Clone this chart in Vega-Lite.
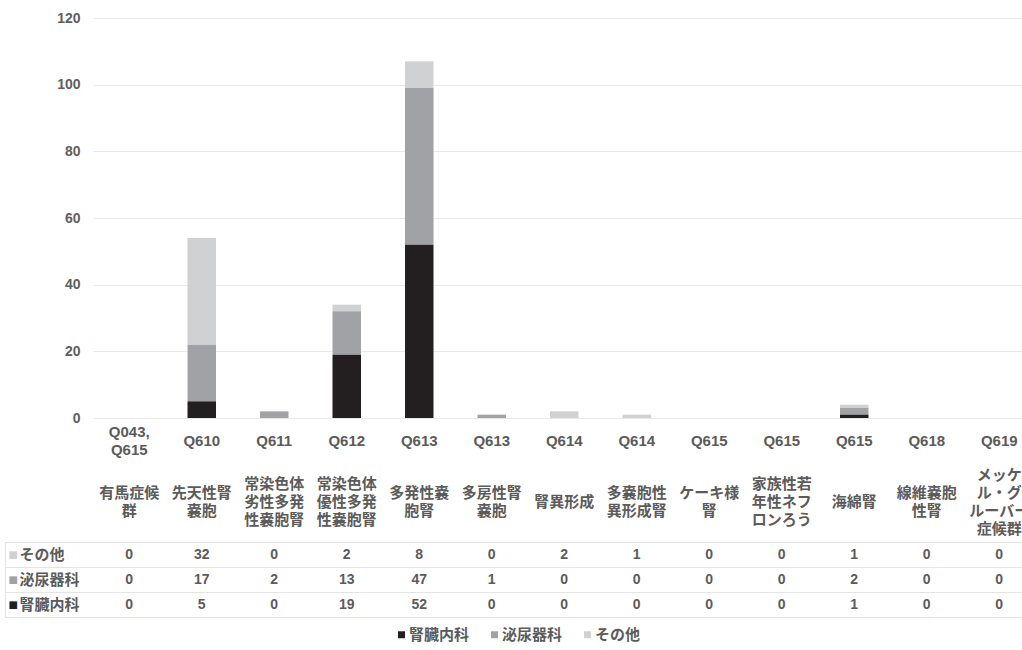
{
  "$schema": "https://vega.github.io/schema/vega-lite/v6.json",
  "autosize": {"type": "none"},
  "padding": {"left": 93, "top": 18, "right": 0, "bottom": 33},
  "width": 929,
  "height": 599,
  "background": "white",
  "config": {
    "view": {"stroke": null},
    "font": "Liberation Sans, Noto Sans CJK JP"
  },
  "datasets": {
    "counts": [
      {"disease": "有馬症候群", "series": "その他", "count": 0},
      {"disease": "有馬症候群", "series": "泌尿器科", "count": 0},
      {"disease": "有馬症候群", "series": "腎臓内科", "count": 0},
      {"disease": "先天性腎嚢胞", "series": "その他", "count": 32},
      {"disease": "先天性腎嚢胞", "series": "泌尿器科", "count": 17},
      {"disease": "先天性腎嚢胞", "series": "腎臓内科", "count": 5},
      {"disease": "常染色体劣性多発性嚢胞腎", "series": "その他", "count": 0},
      {"disease": "常染色体劣性多発性嚢胞腎", "series": "泌尿器科", "count": 2},
      {"disease": "常染色体劣性多発性嚢胞腎", "series": "腎臓内科", "count": 0},
      {"disease": "常染色体優性多発性嚢胞腎", "series": "その他", "count": 2},
      {"disease": "常染色体優性多発性嚢胞腎", "series": "泌尿器科", "count": 13},
      {"disease": "常染色体優性多発性嚢胞腎", "series": "腎臓内科", "count": 19},
      {"disease": "多発性嚢胞腎", "series": "その他", "count": 8},
      {"disease": "多発性嚢胞腎", "series": "泌尿器科", "count": 47},
      {"disease": "多発性嚢胞腎", "series": "腎臓内科", "count": 52},
      {"disease": "多房性腎嚢胞", "series": "その他", "count": 0},
      {"disease": "多房性腎嚢胞", "series": "泌尿器科", "count": 1},
      {"disease": "多房性腎嚢胞", "series": "腎臓内科", "count": 0},
      {"disease": "腎異形成", "series": "その他", "count": 2},
      {"disease": "腎異形成", "series": "泌尿器科", "count": 0},
      {"disease": "腎異形成", "series": "腎臓内科", "count": 0},
      {"disease": "多嚢胞性異形成腎", "series": "その他", "count": 1},
      {"disease": "多嚢胞性異形成腎", "series": "泌尿器科", "count": 0},
      {"disease": "多嚢胞性異形成腎", "series": "腎臓内科", "count": 0},
      {"disease": "ケーキ様腎", "series": "その他", "count": 0},
      {"disease": "ケーキ様腎", "series": "泌尿器科", "count": 0},
      {"disease": "ケーキ様腎", "series": "腎臓内科", "count": 0},
      {"disease": "家族性若年性ネフロンろう", "series": "その他", "count": 0},
      {"disease": "家族性若年性ネフロンろう", "series": "泌尿器科", "count": 0},
      {"disease": "家族性若年性ネフロンろう", "series": "腎臓内科", "count": 0},
      {"disease": "海綿腎", "series": "その他", "count": 1},
      {"disease": "海綿腎", "series": "泌尿器科", "count": 2},
      {"disease": "海綿腎", "series": "腎臓内科", "count": 1},
      {"disease": "線維嚢胞性腎", "series": "その他", "count": 0},
      {"disease": "線維嚢胞性腎", "series": "泌尿器科", "count": 0},
      {"disease": "線維嚢胞性腎", "series": "腎臓内科", "count": 0},
      {"disease": "メッケル・グルーバー症候群", "series": "その他", "count": 0},
      {"disease": "メッケル・グルーバー症候群", "series": "泌尿器科", "count": 0},
      {"disease": "メッケル・グルーバー症候群", "series": "腎臓内科", "count": 0}
    ],
    "header": [
      {"disease": "有馬症候群", "part": "code", "label": "Q043,\nQ615"},
      {"disease": "有馬症候群", "part": "name", "label": "有馬症候\n群"},
      {"disease": "先天性腎嚢胞", "part": "code", "label": "Q610"},
      {"disease": "先天性腎嚢胞", "part": "name", "label": "先天性腎\n嚢胞"},
      {"disease": "常染色体劣性多発性嚢胞腎", "part": "code", "label": "Q611"},
      {"disease": "常染色体劣性多発性嚢胞腎", "part": "name", "label": "常染色体\n劣性多発\n性嚢胞腎"},
      {"disease": "常染色体優性多発性嚢胞腎", "part": "code", "label": "Q612"},
      {"disease": "常染色体優性多発性嚢胞腎", "part": "name", "label": "常染色体\n優性多発\n性嚢胞腎"},
      {"disease": "多発性嚢胞腎", "part": "code", "label": "Q613"},
      {"disease": "多発性嚢胞腎", "part": "name", "label": "多発性嚢\n胞腎"},
      {"disease": "多房性腎嚢胞", "part": "code", "label": "Q613"},
      {"disease": "多房性腎嚢胞", "part": "name", "label": "多房性腎\n嚢胞"},
      {"disease": "腎異形成", "part": "code", "label": "Q614"},
      {"disease": "腎異形成", "part": "name", "label": "腎異形成"},
      {"disease": "多嚢胞性異形成腎", "part": "code", "label": "Q614"},
      {"disease": "多嚢胞性異形成腎", "part": "name", "label": "多嚢胞性\n異形成腎"},
      {"disease": "ケーキ様腎", "part": "code", "label": "Q615"},
      {"disease": "ケーキ様腎", "part": "name", "label": "ケーキ様\n腎"},
      {"disease": "家族性若年性ネフロンろう", "part": "code", "label": "Q615"},
      {"disease": "家族性若年性ネフロンろう", "part": "name", "label": "家族性若\n年性ネフ\nロンろう"},
      {"disease": "海綿腎", "part": "code", "label": "Q615"},
      {"disease": "海綿腎", "part": "name", "label": "海綿腎"},
      {"disease": "線維嚢胞性腎", "part": "code", "label": "Q618"},
      {"disease": "線維嚢胞性腎", "part": "name", "label": "線維嚢胞\n性腎"},
      {"disease": "メッケル・グルーバー症候群", "part": "code", "label": "Q619"},
      {"disease": "メッケル・グルーバー症候群", "part": "name", "label": "メッケ\nル・グ\nルーバー\n症候群"}
    ]
  },
  "resolve": {"scale": {"y": "independent"}, "axis": {"y": "independent"}},
  "layer": [
    {
      "data": {"name": "counts"},
      "mark": {"type": "bar", "width": {"band": 0.393}},
      "encoding": {
        "x": {
          "field": "disease", "type": "nominal",
          "scale": {"type": "band", "domain": ["有馬症候群","先天性腎嚢胞","常染色体劣性多発性嚢胞腎","常染色体優性多発性嚢胞腎","多発性嚢胞腎","多房性腎嚢胞","腎異形成","多嚢胞性異形成腎","ケーキ様腎","家族性若年性ネフロンろう","海綿腎","線維嚢胞性腎","メッケル・グルーバー症候群"], "range": [0, 942.5], "paddingInner": 0, "paddingOuter": 0},
          "axis": {"orient": "bottom", "offset": -199, "title": null, "labels": false, "domain": true, "domainColor": "#dedede", "ticks": true, "tickBand": "extent", "tickSize": 199, "tickColor": "#e4e4e4", "grid": false}
        },
        "y": {
          "field": "count", "type": "quantitative", "stack": "zero",
          "scale": {"domain": [0, 120], "range": [400, 0], "nice": false},
          "axis": {"orient": "left", "title": null, "values": [0, 20, 40, 60, 80, 100, 120], "domain": false, "ticks": false, "grid": true, "gridColor": "#e8e8e8", "labelPadding": 13, "labelFontSize": 14, "labelFontWeight": "bold", "labelColor": "#5e5e5e"}
        },
        "color": {
          "field": "series", "type": "nominal",
          "scale": {"domain": ["腎臓内科", "泌尿器科", "その他"], "range": ["#231f20", "#a1a2a5", "#d0d1d3"]},
          "legend": {"orient": "none", "legendX": 301, "legendY": 609, "direction": "horizontal", "title": null, "symbolType": "square", "symbolSize": 49, "symbolStrokeWidth": 0, "labelFontSize": 15, "labelFontWeight": "bold", "labelColor": "#5b5b5b", "labelOffset": 0, "columnPadding": 17}
        },
        "order": {"field": "series", "sort": "descending"}
      }
    },
    {
      "data": {"name": "header"},
      "transform": [{"filter": "length(split(datum.label, '\\n')) == 1"}],
      "mark": {"type": "text", "lineBreak": "\n", "fontSize": 15, "fontWeight": "bold", "color": "#5b5b5b", "lineHeight": 18.3, "baseline": "middle", "align": "center", "dy": 0},
      "encoding": {
        "x": {
          "field": "disease", "type": "nominal",
          "scale": {"type": "band", "domain": ["有馬症候群","先天性腎嚢胞","常染色体劣性多発性嚢胞腎","常染色体優性多発性嚢胞腎","多発性嚢胞腎","多房性腎嚢胞","腎異形成","多嚢胞性異形成腎","ケーキ様腎","家族性若年性ネフロンろう","海綿腎","線維嚢胞性腎","メッケル・グルーバー症候群"], "range": [0, 942.5], "paddingInner": 0, "paddingOuter": 0},
          "axis": null
        },
        "y": {
          "field": "part", "type": "nominal",
          "scale": {"type": "point", "domain": ["code", "name"], "range": [423, 484], "padding": 0},
          "axis": null
        },
        "text": {"field": "label", "type": "nominal"}
      }
    },
    {
      "data": {"name": "header"},
      "transform": [{"filter": "length(split(datum.label, '\\n')) == 2"}],
      "mark": {"type": "text", "lineBreak": "\n", "fontSize": 15, "fontWeight": "bold", "color": "#5b5b5b", "lineHeight": 18.3, "baseline": "middle", "align": "center", "dy": -9.15},
      "encoding": {
        "x": {
          "field": "disease", "type": "nominal",
          "scale": {"type": "band", "domain": ["有馬症候群","先天性腎嚢胞","常染色体劣性多発性嚢胞腎","常染色体優性多発性嚢胞腎","多発性嚢胞腎","多房性腎嚢胞","腎異形成","多嚢胞性異形成腎","ケーキ様腎","家族性若年性ネフロンろう","海綿腎","線維嚢胞性腎","メッケル・グルーバー症候群"], "range": [0, 942.5], "paddingInner": 0, "paddingOuter": 0},
          "axis": null
        },
        "y": {
          "field": "part", "type": "nominal",
          "scale": {"type": "point", "domain": ["code", "name"], "range": [423, 484], "padding": 0},
          "axis": null
        },
        "text": {"field": "label", "type": "nominal"}
      }
    },
    {
      "data": {"name": "header"},
      "transform": [{"filter": "length(split(datum.label, '\\n')) == 3"}],
      "mark": {"type": "text", "lineBreak": "\n", "fontSize": 15, "fontWeight": "bold", "color": "#5b5b5b", "lineHeight": 18.3, "baseline": "middle", "align": "center", "dy": -18.3},
      "encoding": {
        "x": {
          "field": "disease", "type": "nominal",
          "scale": {"type": "band", "domain": ["有馬症候群","先天性腎嚢胞","常染色体劣性多発性嚢胞腎","常染色体優性多発性嚢胞腎","多発性嚢胞腎","多房性腎嚢胞","腎異形成","多嚢胞性異形成腎","ケーキ様腎","家族性若年性ネフロンろう","海綿腎","線維嚢胞性腎","メッケル・グルーバー症候群"], "range": [0, 942.5], "paddingInner": 0, "paddingOuter": 0},
          "axis": null
        },
        "y": {
          "field": "part", "type": "nominal",
          "scale": {"type": "point", "domain": ["code", "name"], "range": [423, 484], "padding": 0},
          "axis": null
        },
        "text": {"field": "label", "type": "nominal"}
      }
    },
    {
      "data": {"name": "header"},
      "transform": [{"filter": "length(split(datum.label, '\\n')) == 4"}],
      "mark": {"type": "text", "lineBreak": "\n", "fontSize": 15, "fontWeight": "bold", "color": "#5b5b5b", "lineHeight": 18.3, "baseline": "middle", "align": "center", "dy": -27.45},
      "encoding": {
        "x": {
          "field": "disease", "type": "nominal",
          "scale": {"type": "band", "domain": ["有馬症候群","先天性腎嚢胞","常染色体劣性多発性嚢胞腎","常染色体優性多発性嚢胞腎","多発性嚢胞腎","多房性腎嚢胞","腎異形成","多嚢胞性異形成腎","ケーキ様腎","家族性若年性ネフロンろう","海綿腎","線維嚢胞性腎","メッケル・グルーバー症候群"], "range": [0, 942.5], "paddingInner": 0, "paddingOuter": 0},
          "axis": null
        },
        "y": {
          "field": "part", "type": "nominal",
          "scale": {"type": "point", "domain": ["code", "name"], "range": [423, 484], "padding": 0},
          "axis": null
        },
        "text": {"field": "label", "type": "nominal"}
      }
    },
    {
      "data": {"name": "counts"},
      "mark": {"type": "text", "fontSize": 14, "fontWeight": "bold", "color": "#5b5b5b", "baseline": "middle", "align": "center"},
      "encoding": {
        "x": {
          "field": "disease", "type": "nominal",
          "scale": {"type": "band", "domain": ["有馬症候群","先天性腎嚢胞","常染色体劣性多発性嚢胞腎","常染色体優性多発性嚢胞腎","多発性嚢胞腎","多房性腎嚢胞","腎異形成","多嚢胞性異形成腎","ケーキ様腎","家族性若年性ネフロンろう","海綿腎","線維嚢胞性腎","メッケル・グルーバー症候群"], "range": [0, 942.5], "paddingInner": 0, "paddingOuter": 0},
          "axis": null
        },
        "y": {
          "field": "series", "type": "nominal",
          "scale": {"type": "band", "domain": ["その他", "泌尿器科", "腎臓内科"], "range": [524, 599], "paddingInner": 0, "paddingOuter": 0},
          "axis": {"orient": "left", "title": null, "domain": false, "ticks": true, "tickBand": "extent", "tickSize": 88, "tickColor": "#e4e4e4", "grid": true, "gridColor": "#e4e4e4", "labelAlign": "left", "labelBaseline": "middle", "labelPadding": -14, "labelFontSize": 15, "labelFontWeight": "bold", "labelColor": "#5b5b5b"}
        },
        "text": {"field": "count", "type": "quantitative"}
      }
    },
    {
      "data": {"name": "counts"},
      "mark": {"type": "text", "opacity": 0},
      "encoding": {
        "x": {
          "field": "disease", "type": "nominal",
          "scale": {"type": "band", "domain": ["有馬症候群","先天性腎嚢胞","常染色体劣性多発性嚢胞腎","常染色体優性多発性嚢胞腎","多発性嚢胞腎","多房性腎嚢胞","腎異形成","多嚢胞性異形成腎","ケーキ様腎","家族性若年性ネフロンろう","海綿腎","線維嚢胞性腎","メッケル・グルーバー症候群"], "range": [0, 942.5], "paddingInner": 0, "paddingOuter": 0},
          "axis": null
        },
        "y": {
          "field": "series", "type": "nominal",
          "scale": {"type": "band", "domain": ["その他", "泌尿器科", "腎臓内科"], "range": [524, 599], "paddingInner": 0, "paddingOuter": 0},
          "axis": {"orient": "left", "offset": 88, "title": null, "domain": true, "domainColor": "#e4e4e4", "ticks": false, "grid": false, "labelExpr": "'■'", "labelAlign": "left", "labelBaseline": "middle", "labelPadding": -3, "labelFontSize": 10, "labelFont": "DejaVu Sans", "labelColor": {"condition": [{"test": "datum.value === 'その他'", "value": "#d0d1d3"}, {"test": "datum.value === '泌尿器科'", "value": "#a1a2a5"}], "value": "#231f20"}}
        },
        "text": {"field": "count", "type": "quantitative"}
      }
    }
  ]
}
